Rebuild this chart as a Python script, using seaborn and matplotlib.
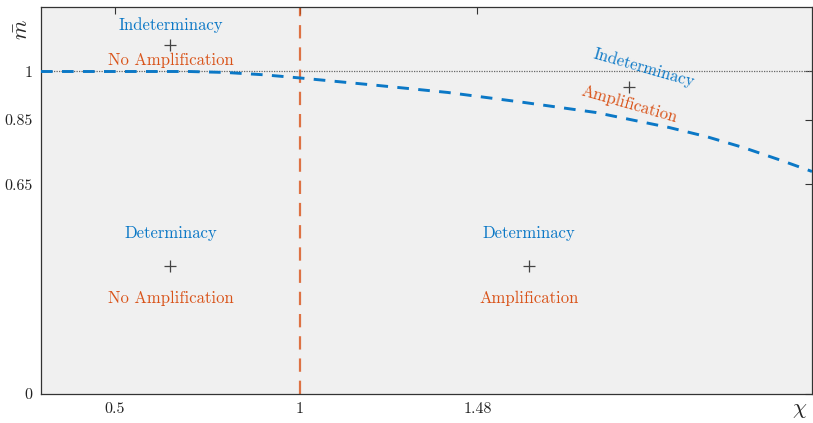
import numpy as np
import pandas as pd
import matplotlib
matplotlib.use("Agg")
import matplotlib.pyplot as plt
import seaborn as sns

# Boundary curve between determinacy and indeterminacy regions
chi = [0.30, 0.50, 0.70, 0.80, 0.90, 1.00, 1.20, 1.40, 1.60, 1.80, 2.00, 2.10, 2.20, 2.30, 2.385]
m_bar = [1.000, 1.000, 1.000, 0.997, 0.990, 0.980, 0.958, 0.935, 0.905, 0.873, 0.826, 0.798, 0.764, 0.725, 0.690]

x_ticks = [0.5, 1, 1.48]
x_tick_labels = ["0.5", "1", "1.48"]
y_ticks = [0, 0.65, 0.85, 1]
y_tick_labels = ["0", "0.65", "0.85", "1"]

chi_threshold = 1.0
m_reference = 1.0

# Region labels: (chi, m of marker, upper text, lower text)
region_chi = [0.65, 0.65, 1.62, 1.89]
region_m = [1.083, 0.397, 0.397, 0.953]
region_upper = ["Indeterminacy", "Determinacy", "Determinacy", "Indeterminacy"]
region_lower = ["No Amplification", "No Amplification", "Amplification", "Amplification"]

sns.set_theme(style="white")
plt.rcParams["font.family"] = ["cmr10", "DejaVu Serif"]
plt.rcParams["mathtext.fontset"] = "cm"
plt.rcParams["axes.unicode_minus"] = False
plt.rcParams["axes.formatter.use_mathtext"] = True

BLUE = "#0B78C6"
ORANGE = "#D95319"
FS = 12

fig = plt.figure(figsize=(8.13, 4.23), dpi=100)
ax = fig.add_axes([41 / 813, 29 / 423, 771 / 813, 387 / 423])
ax.set_facecolor("#F0F0F0")

ax.axhline(m_reference, color="#666666", lw=0.9, ls=(0, (1, 1)), zorder=1)
ax.axvline(chi_threshold, color=ORANGE, lw=1.6, ls=(0, (6, 4)), alpha=0.8, zorder=2)

df = pd.DataFrame({"chi": chi, "m": m_bar})
sns.lineplot(data=df, x="chi", y="m", ax=ax, color=BLUE, lw=2.1,
             dashes=False, zorder=3)
ax.lines[-1].set_linestyle((0, (4, 3.2)))

for i, (cx, cm, up, lo) in enumerate(zip(region_chi, region_m, region_upper, region_lower)):
    ax.plot([cx], [cm], marker="+", ms=9, mew=0.9, color="#444444", ls="none", zorder=4)
    if i == 3:
        ax.text(cx + 0.04, cm + 0.058, up, color=BLUE, fontsize=FS, rotation=-16,
                ha="center", va="center", rotation_mode="anchor")
        ax.text(cx, cm - 0.056, lo, color=ORANGE, fontsize=FS, rotation=-16,
                ha="center", va="center", rotation_mode="anchor")
    elif i == 0:
        ax.text(cx, cm + 0.062, up, color=BLUE, fontsize=FS, ha="center", va="center")
        ax.text(cx, cm - 0.047, lo, color=ORANGE, fontsize=FS, ha="center", va="center")
    else:
        ax.text(cx, cm + 0.102, up, color=BLUE, fontsize=FS, ha="center", va="center")
        ax.text(cx, cm - 0.10, lo, color=ORANGE, fontsize=FS, ha="center", va="center")

ax.set_xlim(0.3, 2.385)
ax.set_ylim(0, 1.2)
ax.set_xticks(x_ticks)
ax.set_xticklabels(x_tick_labels)
ax.set_yticks(y_ticks)
ax.set_yticklabels(y_tick_labels)
ax.tick_params(direction="in", length=5, width=0.8, colors="#333333",
               top=True, right=True, labelsize=11.5, pad=6)
ax.tick_params(axis="x", labelcolor="#222222")
ax.tick_params(axis="y", labelcolor="#222222")

for s in ax.spines.values():
    s.set_color("#333333")
    s.set_linewidth(0.9)

ax.set_xlabel("")
ax.set_ylabel("")
fig.text(800 / 813, 1 - 410 / 423, r"$\chi$", fontsize=16, ha="center", va="center")
fig.text(22 / 813, 1 - 30 / 423, r"$\bar{m}$", fontsize=16, ha="center", va="center", rotation=90)

fig.savefig("out.png", dpi=100, facecolor="white")
